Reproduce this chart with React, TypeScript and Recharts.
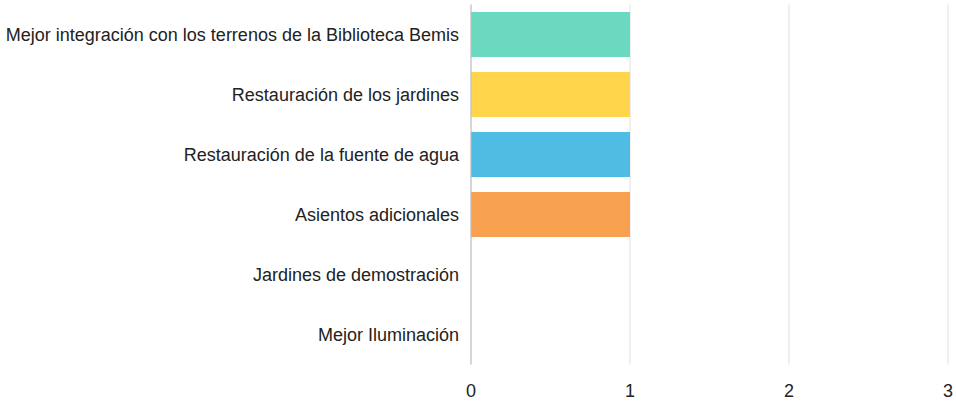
import React from 'react';
import { BarChart, Bar, XAxis, YAxis, CartesianGrid, Cell } from 'recharts';

const categories = [
  'Mejor integración con los terrenos de la Biblioteca Bemis',
  'Restauración de los jardines',
  'Restauración de la fuente de agua',
  'Asientos adicionales',
  'Jardines de demostración',
  'Mejor Iluminación',
];
const votes = [1, 1, 1, 1, 0, 0];
const xTicks = [0, 1, 2, 3];
const barColors = ['#6bd9bf', '#ffd54c', '#4fbde3', '#f6a050', '#9b8ae0', '#e46d6d'];

const data = categories.map((name, i) => ({ name, value: votes[i] }));

const font = '"Liberation Sans", Arial, sans-serif';

export default function App() {
  return (
    <div style={{ position: 'absolute', left: 0, top: 0, width: 956, height: 408, background: '#fff' }}>
      <BarChart
        width={956}
        height={408}
        data={data}
        layout="vertical"
        margin={{ top: 4.5, right: 8, left: 0, bottom: 0 }}
        barCategoryGap={7.5}
      >
        <CartesianGrid horizontal={false} stroke="#e0e0e0" />
        <XAxis
          type="number"
          domain={[0, 3]}
          ticks={xTicks}
          axisLine={false}
          tickLine={false}
          tickMargin={14}
          height={43.5}
          tick={{ fill: '#222', fontSize: 18, fontFamily: font }}
        />
        <YAxis
          type="category"
          dataKey="name"
          width={471}
          axisLine={{ stroke: '#bdbdbd' }}
          tickLine={false}
          tickMargin={6}
          tick={{ fill: '#222', fontSize: 18, fontFamily: font }}
        />
        <Bar dataKey="value" isAnimationActive={false}>
          {data.map((d, i) => (
            <Cell key={d.name} fill={barColors[i]} />
          ))}
        </Bar>
      </BarChart>
    </div>
  );
}
